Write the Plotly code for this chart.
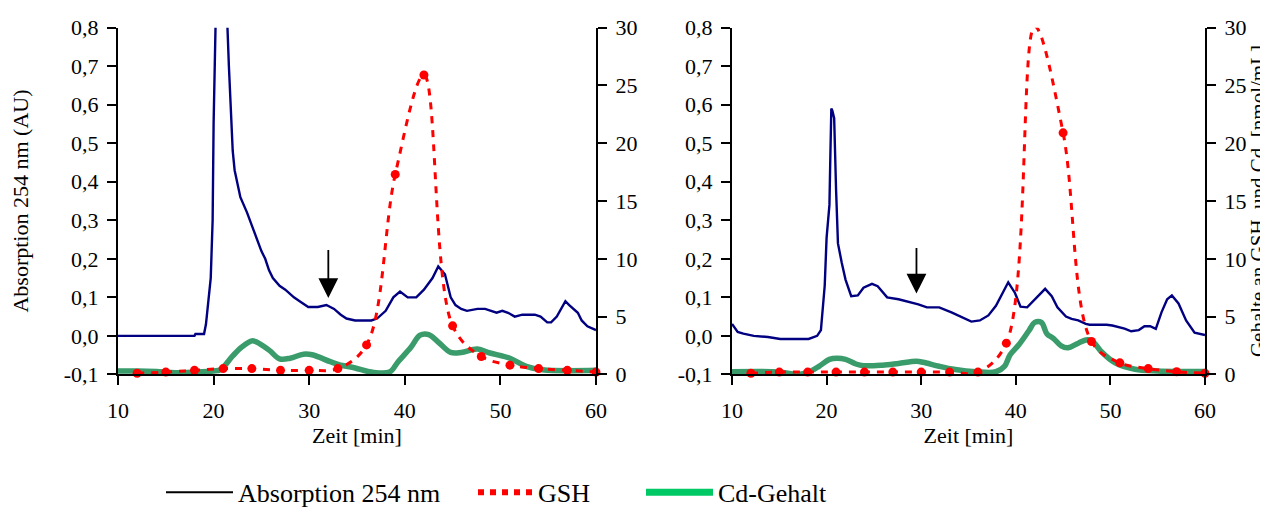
import plotly.graph_objects as go

# ---------------- data ----------------
# Left panel: absorption 254 nm (AU)
t_abs_L = [10, 18.0, 18.1, 19.0, 19.2, 19.5, 19.7, 19.9, 20.0, 20.2, 20.4, 21.0, 21.3, 21.6, 21.8, 22.0, 22.2, 22.8, 23.5, 24.1,
           25.0, 25.4, 25.8, 26.2, 26.9, 27.5, 28.4, 29.0, 29.9, 30.9, 31.8, 32.6, 33.3, 33.9, 34.8, 36.5, 37.1, 38.0, 38.8, 39.5,
           40.3, 41.2, 42.0, 42.9, 43.5, 44.2, 44.8, 45.3, 45.9, 46.5, 47.6, 48.4, 49.1, 49.6, 50.2, 50.8, 51.5, 52.3, 53.6, 54.2,
           54.9, 55.3, 55.9, 56.6, 56.8, 57.2, 58.1, 58.5, 59.1, 60]
abs_L = [0.0, 0.0, 0.005, 0.005, 0.03, 0.1, 0.15, 0.3, 0.55, 0.8, 1.2, 1.3, 0.9, 0.7, 0.6, 0.48, 0.43, 0.36, 0.32, 0.28,
         0.22, 0.2, 0.17, 0.15, 0.13, 0.12, 0.1, 0.09, 0.075, 0.075, 0.08, 0.07, 0.055, 0.045, 0.04, 0.04, 0.045, 0.065, 0.1, 0.115,
         0.1, 0.1, 0.12, 0.15, 0.18, 0.16, 0.1, 0.08, 0.07, 0.065, 0.07, 0.07, 0.065, 0.06, 0.065, 0.06, 0.05, 0.055, 0.055, 0.05,
         0.035, 0.035, 0.05, 0.08, 0.09, 0.08, 0.06, 0.04, 0.025, 0.015]

# Left panel: Cd content (nmol/mL)
t_cd_L = [10, 12, 14, 16, 18, 20, 20.7, 22, 23, 24, 24.5, 25.8, 26.9, 28, 29.4, 30.3, 32.2, 33.1, 34.8, 36.5,
          38.4, 39.3, 40.6, 41.6, 42.5, 43.5, 44.8, 45.9, 47.6, 48.9, 51, 52.7, 54.4, 60]
cd_L = [0.3, 0.3, 0.25, 0.15, 0.2, 0.3, 0.4, 1.6, 2.4, 2.9, 2.8, 2.1, 1.35, 1.4, 1.75, 1.7, 1.1, 0.85, 0.55, 0.2,
        0.2, 1.1, 2.3, 3.4, 3.45, 2.8, 1.9, 1.9, 2.2, 1.85, 1.4, 0.7, 0.4, 0.35]

# Fraction times for GSH (both panels)
t_gsh = [12, 15, 18, 21, 24, 27, 30, 33, 36, 39, 42, 45, 48, 51, 54, 57, 60]
gsh_L = [0.1, 0.2, 0.35, 0.5, 0.5, 0.35, 0.35, 0.5, 2.55, 17.3, 25.9, 4.2, 1.55, 0.8, 0.5, 0.35, 0.2]
gsh_R = [0.1, 0.2, 0.2, 0.2, 0.2, 0.2, 0.2, 0.2, 0.2, 2.7, 30.1, 20.9, 2.85, 1.0, 0.5, 0.23, 0.1]

# Right panel: absorption 254 nm (AU)
t_abs_R = [10, 10.6, 11.2, 12.3, 13.8, 15.1, 18.1, 19.0, 19.4, 19.6, 19.8, 20.0, 20.3, 20.4, 20.5, 20.6, 20.8, 21.0, 21.2, 21.6,
           22.0, 22.6, 23.3, 23.9, 24.8, 25.4, 26.4, 27.6, 28.4, 29.7, 30.6, 31.9, 33.2, 34.5, 35.3, 36.2, 37.1, 37.9, 38.6, 39.2,
           39.9, 40.5, 41.2, 41.8, 42.5, 43.1, 43.8, 44.4, 45.3, 45.9, 46.6, 47.4, 47.8, 49.6, 50.2, 51.5, 52.2, 53.0, 53.6, 54.2,
           54.8, 55.4, 56.0, 56.5, 57.2, 58.0, 58.9, 60]
abs_R = [0.031, 0.01, 0.006, 0.0, -0.003, -0.008, -0.008, 0.0, 0.015, 0.086, 0.13, 0.255, 0.34, 0.47, 0.59, 0.585, 0.565, 0.38, 0.24, 0.19,
         0.146, 0.103, 0.105, 0.125, 0.135, 0.129, 0.1, 0.095, 0.09, 0.082, 0.074, 0.074, 0.061, 0.046, 0.037, 0.04, 0.053, 0.078, 0.112, 0.139,
         0.112, 0.076, 0.074, 0.09, 0.107, 0.122, 0.103, 0.074, 0.05, 0.044, 0.04, 0.031, 0.029, 0.029, 0.027, 0.019, 0.012, 0.015, 0.025, 0.025,
         0.018, 0.061, 0.095, 0.105, 0.084, 0.04, 0.008, 0.002]

# Right panel: Cd content (nmol/mL)
t_cd_R = [10, 14.2, 15.5, 17, 18.1, 19.2, 20.3, 21.1, 22, 23.1, 23.9, 25.9, 27.6, 29.5, 30.2, 31.9, 33.6, 35.8, 37.9, 38.8,
          39.4, 40.3, 41.4, 42, 42.7, 43.3, 44, 44.8, 45.5, 46.6, 47.6, 48.3, 49, 50.5, 52.6, 55, 60]
cd_R = [0.23, 0.23, 0.15, 0.0, 0.2, 0.7, 1.3, 1.4, 1.3, 0.9, 0.75, 0.8, 0.95, 1.13, 1.05, 0.7, 0.42, 0.23, 0.23, 0.7,
        1.7, 2.54, 3.8, 4.5, 4.5, 3.5, 3.1, 2.46, 2.3, 2.7, 3.0, 2.7, 2.0, 1.0, 0.45, 0.3, 0.25]

# Arrow marks (time, tail value, tip value) in absorption units
arrow_L = (32.0, 0.227, 0.098)
arrow_R = (29.5, 0.232, 0.11)

# Tick labels
abs_ticks = [-0.1, 0.0, 0.1, 0.2, 0.3, 0.4, 0.5, 0.6, 0.7, 0.8]
abs_ticktext = ["-0,1", "0,0", "0,1", "0,2", "0,3", "0,4", "0,5", "0,6", "0,7", "0,8"]
conc_ticks = [0, 5, 10, 15, 20, 25, 30]
time_ticks = [10, 20, 30, 40, 50, 60]

legend_names = ["Absorption 254 nm", "GSH", "Cd-Gehalt"]

# ---------------- styles ----------------
FONT = "Liberation Serif"
NAVY = "#000080"
RED = "#FF0000"
GREEN_PLOT = "#3A9B6B"
GREEN_LEG = "#00C864"
W, H = 1268, 508
TICK = dict(family=FONT, size=22, color="black")
TITLE = dict(family=FONT, size=22, color="black")

fig = go.Figure()

def add_panel(xa, ya_abs, ya_conc, t_abs, a_vals, t_cd, cd_vals, gsh_vals):
    fig.add_trace(go.Scatter(x=t_abs, y=a_vals, mode="lines", xaxis=xa, yaxis=ya_abs,
                             line=dict(color=NAVY, width=2.4), showlegend=False, hoverinfo="skip"))
    fig.add_trace(go.Scatter(x=t_cd, y=cd_vals, mode="lines", xaxis=xa, yaxis=ya_conc,
                             line=dict(color=GREEN_PLOT, width=5.5, shape="spline", smoothing=1),
                             showlegend=False, hoverinfo="skip"))
    fig.add_trace(go.Scatter(x=t_gsh, y=gsh_vals, mode="lines+markers", xaxis=xa, yaxis=ya_conc,
                             line=dict(color=RED, width=3, dash="7px,7px", shape="spline", smoothing=1),
                             marker=dict(color=RED, size=9, symbol="circle"),
                             cliponaxis=False, showlegend=False, hoverinfo="skip"))

add_panel("x", "y", "y2", t_abs_L, abs_L, t_cd_L, cd_L, gsh_L)
add_panel("x2", "y3", "y4", t_abs_R, abs_R, t_cd_R, cd_R, gsh_R)

# legend-only entries
fig.add_trace(go.Scatter(x=[None], y=[None], mode="lines", name=legend_names[0],
                         line=dict(color="black", width=2), legend="legend", showlegend=True))
fig.add_trace(go.Scatter(x=[None], y=[None], mode="lines", name=legend_names[1],
                         line=dict(color=RED, width=6, dash="dot"), legend="legend2", showlegend=True))
fig.add_trace(go.Scatter(x=[None], y=[None], mode="lines", name=legend_names[2],
                         line=dict(color=GREEN_LEG, width=7), legend="legend3", showlegend=True))

xL = [110 / W, 588 / W]
xR = [724 / W, 1197 / W]
yD = [1 - 373 / H, 1 - 20 / H]

def xax(domain, anchor):
    return dict(domain=domain, anchor=anchor, range=[10, 60], tickvals=time_ticks,
                showline=True, linecolor="black", linewidth=2, ticks="outside", ticklen=9,
                tickwidth=2, tickcolor="black", showgrid=False, zeroline=False,
                tickfont=TICK, ticklabelstandoff=6,
                title=dict(text="Zeit [min]", font=TITLE, standoff=0),
                automargin=False)

def yabs(domain, anchor, title):
    d = dict(domain=domain, anchor=anchor, range=[-0.1, 0.8], tickvals=abs_ticks, ticktext=abs_ticktext,
             showline=True, linecolor="black", linewidth=2, ticks="outside", ticklen=9, tickwidth=2,
             tickcolor="black", showgrid=False, zeroline=False, ticklabelstandoff=4,
             tickfont=TICK, automargin=False)
    if title:
        d["title"] = dict(text=title, font=TITLE, standoff=32)
    return d

def yconc(overlay, anchor, title):
    d = dict(overlaying=overlay, anchor=anchor, side="right", range=[0, 30], tickvals=conc_ticks,
             showline=True, linecolor="black", linewidth=2, ticks="outside", ticklen=9, tickwidth=2,
             tickcolor="black", showgrid=False, zeroline=False, ticklabelstandoff=4,
             tickfont=TICK, automargin=False)
    if title:
        d["title"] = dict(text=title, font=dict(family=FONT, size=21, color="black"), standoff=0)
    return d

def leg(x, iw):
    return dict(x=x, itemwidth=iw, orientation="h", yanchor="middle", xanchor="left", y=(H - 493) / H,
                font=dict(family=FONT, size=26, color="black"), bgcolor="rgba(0,0,0,0)")

fig.update_layout(
    template="none",
    width=W, height=H,
    margin=dict(l=0, r=0, t=0, b=0),
    paper_bgcolor="white", plot_bgcolor="white",
    font=dict(family=FONT, color="black"),
    xaxis=xax(xL, "y"),
    yaxis=yabs(yD, "x", "Absorption 254 nm (AU)"),
    yaxis2=yconc("y", "x", None),
    xaxis2=xax(xR, "y3"),
    yaxis3=yabs(yD, "x2", None),
    yaxis4=yconc("y3", "x2", "Gehalte an GSH\u00a0 und Cd\u00a0 [nmol/mL]"),
    legend=leg(153 / W, 67),
    legend2=leg(465 / W, 55),
    legend3=leg(633 / W, 67),
    showlegend=True,
)

for (t, tail, tip), xr, yr in [(arrow_L, "x", "y"), (arrow_R, "x2", "y3")]:
    fig.add_annotation(x=t, y=tip, ax=t, ay=tail, xref=xr, yref=yr, axref=xr, ayref=yr,
                       showarrow=True, arrowhead=2, arrowsize=2.2, arrowwidth=1.8,
                       arrowcolor="black", text="", standoff=0)

fig.write_html("out.html")
